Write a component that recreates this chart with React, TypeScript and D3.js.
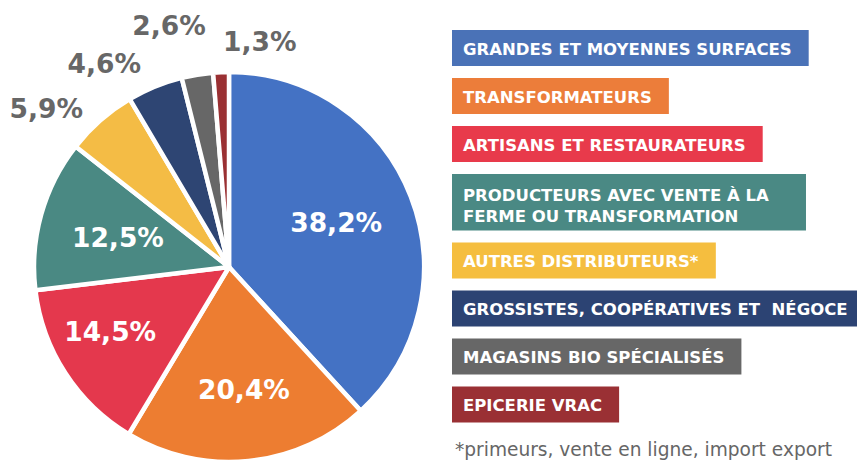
import React, { useLayoutEffect, useRef, useState } from "react";
import * as d3 from "d3";

// ---- data ----
const categories = [
  "GRANDES ET MOYENNES SURFACES",
  "TRANSFORMATEURS",
  "ARTISANS ET RESTAURATEURS",
  "PRODUCTEURS AVEC VENTE À LA FERME OU TRANSFORMATION",
  "AUTRES DISTRIBUTEURS*",
  "GROSSISTES, COOPÉRATIVES ET  NÉGOCE",
  "MAGASINS BIO SPÉCIALISÉS",
  "EPICERIE VRAC",
];
const legendLines = [
  ["GRANDES ET MOYENNES SURFACES"],
  ["TRANSFORMATEURS"],
  ["ARTISANS ET RESTAURATEURS"],
  ["PRODUCTEURS AVEC VENTE À LA", "FERME OU TRANSFORMATION"],
  ["AUTRES DISTRIBUTEURS*"],
  ["GROSSISTES, COOPÉRATIVES ET\u00a0 NÉGOCE"],
  ["MAGASINS BIO SPÉCIALISÉS"],
  ["EPICERIE VRAC"],
];
const values = [38.2, 20.4, 14.5, 12.5, 5.9, 4.6, 2.6, 1.3];
const valueLabels = ["38,2%", "20,4%", "14,5%", "12,5%", "5,9%", "4,6%", "2,6%", "1,3%"];
const footnote = "*primeurs, vente en ligne, import export";

// ---- styles ----
const sliceColors = ["#4472C4", "#ED7D31", "#E4384D", "#4A8983", "#F4BC45", "#2E4573", "#676767", "#9A3033"];
const legendColors = ["#4A72B7", "#EC7D3A", "#E83A4B", "#4A8984", "#F5BE3F", "#2C4373", "#676767", "#9A3034"];
const labelInside = [true, true, true, true, false, false, false, false];
const labelRadius = [116, 123, 135, 115, 242, 238.6, 248.8, 228];
const labelAngleShift = [-1.2, -1.2, 4.6, -0.6, -7.8, -9.2, -4.6, 10.1];

const W = 857;
const H = 461;
const cx = 229;
const cy = 267;
const R = 195;
const FONT = "'DejaVu Sans', sans-serif";

export default function App() {
  const textRefs = useRef<(SVGTextElement | null)[]>([]);
  const [widths, setWidths] = useState<number[]>(legendLines.map((l) => d3.max(l, (s) => s.length * 11.5) as number));

  useLayoutEffect(() => {
    const w = textRefs.current.map((t, i) => (t ? t.getBBox().width : widths[i]));
    setWidths(w);
  }, []);

  const pie = d3
    .pie<number>()
    .sort(null)
    .value((d) => d)
    .startAngle(0)
    .endAngle(2 * Math.PI);
  const arcs = pie(values);
  const arc = d3.arc<d3.PieArcDatum<number>>().innerRadius(0).outerRadius(R);

  // legend layout
  const boxX = 452;
  const padL = 11;
  const padR = 17;
  const padRMulti = 37;
  const singleH = 36;
  const lineH = 21;
  const gap = 12;
  let yCursor = 30;
  const boxes = legendLines.map((lines) => {
    const h = singleH + (lines.length - 1) * lineH - (lines.length > 1 ? 0.5 : 0);
    const b = { y: yCursor, h };
    yCursor += h + gap;
    return b;
  });

  return (
    <svg
      width={W}
      height={H}
      viewBox={`0 0 ${W} ${H}`}
      style={{ position: "absolute", left: 0, top: 0, display: "block", background: "#fff" }}
    >
      <g transform={`translate(${cx},${cy})`}>
        {arcs.map((a, i) => (
          <path key={categories[i]} d={arc(a) as string} fill={sliceColors[i]} stroke="#fff" strokeWidth={4.5} strokeLinejoin="round" />
        ))}
        {arcs.map((a, i) => {
          const mid = (a.startAngle + a.endAngle) / 2 + (labelAngleShift[i] * Math.PI) / 180;
          const r = labelRadius[i];
          const x = r * Math.sin(mid);
          const y = -r * Math.cos(mid);
          return (
            <text
              key={"l" + i}
              x={x}
              y={y}
              dy="0.365em"
              textAnchor="middle"
              fontFamily={FONT}
              fontWeight={700}
              fontSize={26.5}
              fill={labelInside[i] ? "#ffffff" : "#676767"}
            >
              {valueLabels[i]}
            </text>
          );
        })}
      </g>
      <g>
        {legendLines.map((lines, i) => {
          const b = boxes[i];
          const pr = lines.length > 1 ? padRMulti : padR;
          return (
            <g key={"lg" + i}>
              <rect x={boxX} y={b.y} width={widths[i] + padL + pr} height={b.h} fill={legendColors[i]} />
              <text
                ref={(el) => {
                  textRefs.current[i] = el;
                }}
                x={boxX + padL}
                y={b.y + (lines.length > 1 ? 27 : 24.5)}
                fontFamily={FONT}
                fontWeight={700}
                fontSize={16.5}
                fill="#ffffff"
              >
                {lines.map((ln, j) => (
                  <tspan key={j} x={boxX + padL} dy={j === 0 ? 0 : lineH}>
                    {ln}
                  </tspan>
                ))}
              </text>
            </g>
          );
        })}
        <text x={455} y={456} fontFamily={FONT} fontSize={19} fill="#666666" textLength={377} lengthAdjust="spacingAndGlyphs">
          {footnote}
        </text>
      </g>
    </svg>
  );
}
